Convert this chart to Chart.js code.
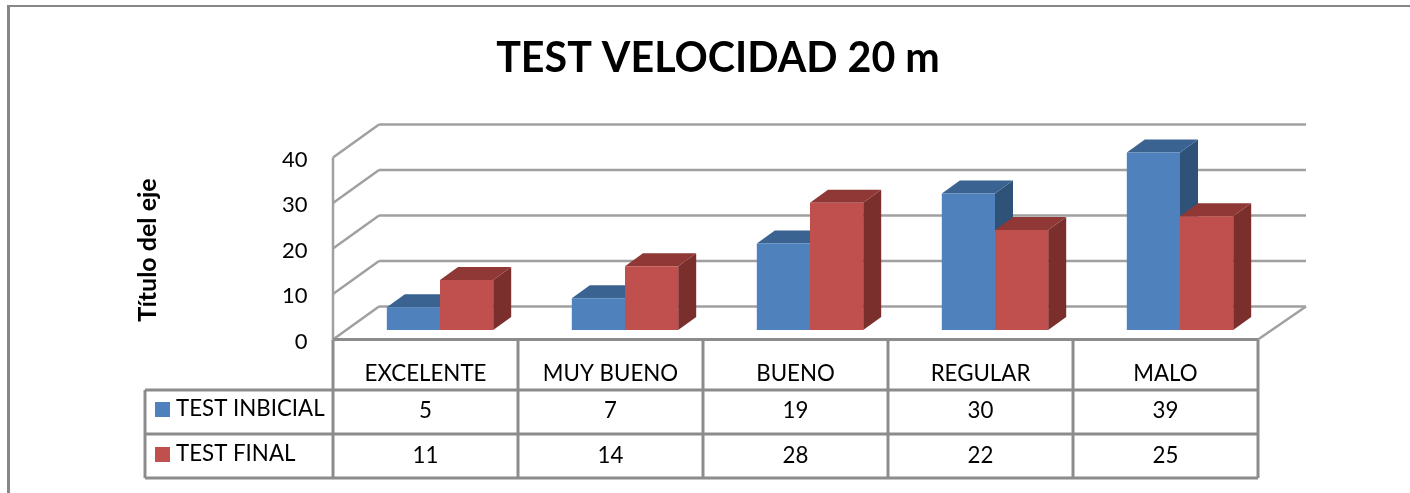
<!DOCTYPE html>
<html>
<head>
<meta charset="utf-8">
<style>
  html, body { margin: 0; padding: 0; background: #fff; overflow: hidden; }
  canvas { display: block; filter: blur(0.4px); }
</style>
</head>
<body>
<canvas id="chart" width="1410" height="493"></canvas>
<script src="https://cdn.jsdelivr.net/npm/chart.js@4/dist/chart.umd.min.js"></script>
<script>
const categories = ['EXCELENTE', 'MUY BUENO', 'BUENO', 'REGULAR', 'MALO'];
const testInicial = [5, 7, 19, 30, 39];
const testFinal = [11, 14, 28, 22, 25];
const seriesNames = ['TEST INBICIAL', 'TEST FINAL'];
const yAxisTitle = 'Título del eje';
const chartTitle = 'TEST VELOCIDAD 20 m';

const colors = {
    blue: '#4f81bd', blueTop: '#3b6391', blueSide: '#2f5279',
    red: '#c0504d', redTop: '#8f3836', redSide: '#7a2f2d',
    grid: '#a0a0a0', table: '#8c8c8c', border: '#878787'
};
const fontFamily = 'Lato, sans-serif';

// ── 3D box, floor and data table, all hung off the chart scales ──
const fake3d = {
    id: 'fake3d',
    beforeDatasetsDraw(chart) {
        const { ctx, scales: { x, y } } = chart;
        const frontX = x.left - 14.5, backX = frontX + 46;
        const bandW = x.getPixelForValue(1) - x.getPixelForValue(0);
        const rightX = frontX + bandW * categories.length;

        // outer frame of the picture
        ctx.save();
        ctx.strokeStyle = colors.border;
        ctx.lineWidth = 3;
        line(ctx, 8.5, 493, 8.5, 6);
        ctx.lineWidth = 2;
        line(ctx, 7, 6, 1410, 6);

        // wall gridlines with their diagonal on the side wall
        ctx.strokeStyle = colors.grid;
        ctx.lineWidth = 2.5;
        y.ticks.forEach(t => {
            const py = y.getPixelForValue(t.value);
            line(ctx, frontX, py + 9.5, backX, py - 23.5);
            if (t.value > 0) line(ctx, backX, py - 23.5, rightX + 48, py - 23.5);
        });
        line(ctx, frontX, y.getPixelForValue(0) + 9.5, frontX, y.getPixelForValue(40) + 9.5);
        line(ctx, backX, y.getPixelForValue(0) - 23.5, rightX + 48, y.getPixelForValue(0) - 23.5);
        line(ctx, rightX, y.getPixelForValue(0) + 9.5, rightX + 48, y.getPixelForValue(0) - 23.5);

        // bar sides and tops, the fronts come from the library on top
        const shades = [[colors.blueSide, colors.blueTop], [colors.redSide, colors.redTop]];
        [0, 1].forEach(ds => {
            chart.getDatasetMeta(ds).data.forEach(bar => {
                const { x: cx, y: top, base, width } = bar.getProps(['x', 'y', 'base', 'width'], true);
                const r = cx + width / 2, l = cx - width / 2;
                ctx.fillStyle = shades[ds][0];
                poly(ctx, [[r, top], [r + 18, top - 13], [r + 18, base - 13], [r, base]]);
                ctx.fillStyle = shades[ds][1];
                poly(ctx, [[l, top], [l + 18, top - 13], [r + 18, top - 13], [r, top]]);
            });
        });
        ctx.restore();
    },
    afterDraw(chart) {
        const { ctx, scales: { x, y } } = chart;
        const frontX = x.left - 14.5;
        const bandW = x.getPixelForValue(1) - x.getPixelForValue(0);
        const rightX = frontX + bandW * categories.length;
        const floorY = y.getPixelForValue(0) + 9.5;
        const rows = [390, 434, 478];
        const legendX = 145;

        ctx.save();
        ctx.strokeStyle = colors.table;
        ctx.lineWidth = 3;
        line(ctx, frontX, floorY, rightX, floorY);
        rows.forEach(ry => line(ctx, legendX, ry, rightX, ry));
        line(ctx, legendX, rows[0], legendX, rows[2]);
        categories.forEach((c, i) => line(ctx, frontX + bandW * i, floorY, frontX + bandW * i, rows[2]));
        line(ctx, rightX, floorY, rightX, rows[2]);

        ctx.fillStyle = '#000';
        ctx.font = '22.3px ' + fontFamily;
        ctx.textBaseline = 'middle';
        ctx.textAlign = 'center';
        categories.forEach((c, i) => {
            const cx = frontX + bandW * (i + 0.5);
            ctx.fillText(c, cx, 374);
            ctx.fillText(String(testInicial[i]), cx, 411);
            ctx.fillText(String(testFinal[i]), cx, 456);
        });

        // series keys in the first table column
        ctx.textAlign = 'left';
        ctx.fillText(seriesNames[0], 176, 409);
        ctx.fillText(seriesNames[1], 176, 454);
        ctx.fillStyle = colors.blue;
        ctx.fillRect(155, 402, 15, 15);
        ctx.fillStyle = colors.red;
        ctx.fillRect(155, 447, 15, 15);

        // axis title sits lower than the scale centre
        ctx.fillStyle = '#000';
        ctx.font = 'bold 25px ' + fontFamily;
        ctx.textAlign = 'center';
        ctx.translate(148, 250);
        ctx.rotate(-Math.PI / 2);
        ctx.fillText(yAxisTitle, 0, 0);
        ctx.restore();
    }
};

function line(ctx, x1, y1, x2, y2) {
    ctx.beginPath();
    ctx.moveTo(x1, y1);
    ctx.lineTo(x2, y2);
    ctx.stroke();
}

function poly(ctx, pts) {
    ctx.beginPath();
    pts.forEach((p, i) => i ? ctx.lineTo(p[0], p[1]) : ctx.moveTo(p[0], p[1]));
    ctx.closePath();
    ctx.fill();
}

new Chart(document.getElementById('chart'), {
    type: 'bar',
    data: {
        labels: categories,
        datasets: [
            { label: seriesNames[0], data: testInicial, backgroundColor: colors.blue },
            { label: seriesNames[1], data: testFinal, backgroundColor: colors.red }
        ]
    },
    plugins: [fake3d],
    options: {
        responsive: false,
        animation: false,
        datasets: { bar: { categoryPercentage: 0.575, barPercentage: 1 } },
        layout: { padding: { left: 163.5, right: 137.5, top: 0, bottom: 163 } },
        plugins: {
            legend: { display: false },
            tooltip: { enabled: false },
            title: {
                display: true,
                text: chartTitle,
                color: '#000',
                font: { family: fontFamily, size: 41.2, weight: 'bold', lineHeight: 1.2 },
                padding: { top: 33.5, bottom: 65.1 }
            }
        },
        scales: {
            x: { display: false },
            y: {
                min: 0,
                max: 40,
                grid: { display: false, drawTicks: false },
                border: { display: false },
                afterFit(axis) { axis.width = 184; },
                ticks: {
                    stepSize: 10,
                    color: '#000',
                    padding: 40,
                    labelOffset: 11.5,
                    font: { family: fontFamily, size: 22 }
                }
            }
        }
    }
});
</script>
</body>
</html>
